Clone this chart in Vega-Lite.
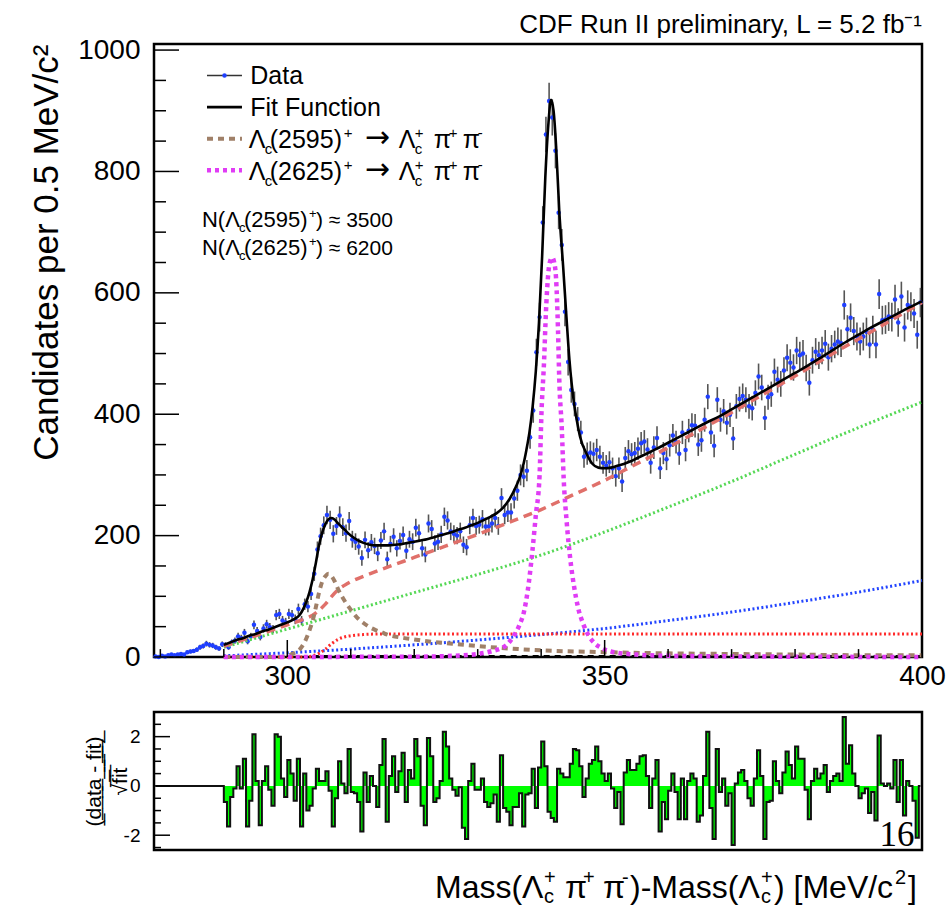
{
"$schema": "https://vega.github.io/schema/vega-lite/v6.json",
"background": "white",
"padding": {"left": 27, "top": 10, "right": 0, "bottom": 0},
"spacing": 18,
"config": {
  "font": "Liberation Sans",
  "view": {"stroke": "#000", "strokeWidth": 2.5},
  "axis": {"labelFont": "Liberation Sans", "titleFont": "Liberation Sans", "labelColor": "#000", "titleColor": "#000", "grid": false},
  "text": {"font": "Liberation Sans", "color": "#000"}
},
"datasets": {
"bins": [
{"x":279.25,"n":1,"e":1,"r":0},{"x":279.75,"n":0,"e":0,"r":0},{"x":280.25,"n":2,"e":1.4,"r":0},{"x":280.75,"n":1,"e":1,"r":0},{"x":281.25,"n":3,"e":1.7,"r":0},{"x":281.75,"n":4,"e":2,"r":0},{"x":282.25,"n":3,"e":1.7,"r":0},{"x":282.75,"n":4,"e":2,"r":0},{"x":283.25,"n":5,"e":2.2,"r":0},{"x":283.75,"n":4,"e":2,"r":0},{"x":284.25,"n":8,"e":2.8,"r":0},{"x":284.75,"n":9,"e":3,"r":0},{"x":285.25,"n":10,"e":3.2,"r":0},{"x":285.75,"n":12,"e":3.5,"r":0},{"x":286.25,"n":16,"e":4,"r":0},{"x":286.75,"n":18,"e":4.2,"r":0},{"x":287.25,"n":22,"e":4.7,"r":0},{"x":287.75,"n":20,"e":4.5,"r":0},{"x":288.25,"n":19,"e":4.4,"r":0},{"x":288.75,"n":16,"e":4,"r":0},{"x":289.25,"n":14,"e":3.7,"r":0},{"x":289.75,"n":21,"e":4.6,"r":0},
{"x":290.25,"n":20,"e":4.5,"r":-0.65},{"x":290.75,"n":16,"e":4,"r":-1.65},{"x":291.25,"n":24,"e":4.9,"r":-0.45},{"x":291.75,"n":27,"e":5.2,"r":-0.1},{"x":292.25,"n":34,"e":5.8,"r":0.8},{"x":292.75,"n":31,"e":5.6,"r":-0.1},{"x":293.25,"n":40,"e":6.3,"r":1.1},{"x":293.75,"n":26,"e":5.1,"r":-1.65},{"x":294.25,"n":34,"e":5.8,"r":-0.6},{"x":294.75,"n":53,"e":7.3,"r":2.1},
{"x":295.25,"n":43,"e":6.6,"r":0.2},{"x":295.75,"n":33,"e":5.7,"r":-1.6},{"x":296.25,"n":47,"e":6.9,"r":0.2},{"x":296.75,"n":54,"e":7.3,"r":0.8},{"x":297.25,"n":49,"e":7,"r":-0.15},{"x":297.75,"n":46,"e":6.8,"r":-0.8},{"x":298.25,"n":69,"e":8.3,"r":2.1},{"x":298.75,"n":71,"e":8.4,"r":2.0},{"x":299.25,"n":60,"e":7.7,"r":0.3},{"x":299.75,"n":57,"e":7.5,"r":-0.45},
{"x":300.25,"n":71,"e":8.4,"r":1.05},{"x":300.75,"n":69,"e":8.3,"r":0.5},{"x":301.25,"n":62,"e":7.9,"r":-0.6},{"x":301.75,"n":79,"e":8.9,"r":1.1},{"x":302.25,"n":60,"e":7.7,"r":-1.65},{"x":302.75,"n":87,"e":9.3,"r":0.5},{"x":303.25,"n":83,"e":9.1,"r":-1.0},{"x":303.75,"n":104,"e":10.2,"r":-0.8},{"x":304.25,"n":137,"e":11.7,"r":-0.1},{"x":304.75,"n":177,"e":13.3,"r":0.7},
{"x":305.25,"n":199,"e":14.1,"r":0.2},{"x":305.75,"n":217,"e":14.7,"r":0.2},{"x":306.25,"n":234,"e":15.3,"r":0.6},{"x":306.75,"n":226,"e":15,"r":-0.2},{"x":307.25,"n":203,"e":14.2,"r":-1.65},{"x":307.75,"n":216,"e":14.7,"r":-0.5},{"x":308.25,"n":233,"e":15.3,"r":1.0},{"x":308.75,"n":214,"e":14.6,"r":0.1},{"x":309.25,"n":204,"e":14.3,"r":-0.3},{"x":309.75,"n":224,"e":15,"r":1.5},
{"x":310.25,"n":194,"e":13.9,"r":-0.25},{"x":310.75,"n":190,"e":13.8,"r":-0.3},{"x":311.25,"n":182,"e":13.5,"r":-0.65},{"x":311.75,"n":163,"e":12.8,"r":-1.85},{"x":312.25,"n":193,"e":13.9,"r":0.55},{"x":312.75,"n":176,"e":13.3,"r":-0.65},{"x":313.25,"n":189,"e":13.7,"r":0.4},{"x":313.75,"n":183,"e":13.5,"r":0},{"x":314.25,"n":171,"e":13.1,"r":-0.85},{"x":314.75,"n":192,"e":13.9,"r":0.85},
{"x":315.25,"n":207,"e":14.4,"r":1.9},{"x":315.75,"n":161,"e":12.7,"r":-1.45},{"x":316.25,"n":186,"e":13.6,"r":0.4},{"x":316.75,"n":198,"e":14.1,"r":1.2},{"x":317.25,"n":179,"e":13.4,"r":-0.25},{"x":317.75,"n":191,"e":13.8,"r":0.6},{"x":318.25,"n":201,"e":14.2,"r":1.35},{"x":318.75,"n":175,"e":13.2,"r":-0.65},{"x":319.25,"n":194,"e":13.9,"r":0.65},{"x":319.75,"n":190,"e":13.8,"r":0.3},
{"x":320.25,"n":213,"e":14.6,"r":1.9},{"x":320.75,"n":204,"e":14.3,"r":1.2},{"x":321.25,"n":179,"e":13.4,"r":-0.8},{"x":321.75,"n":169,"e":13,"r":-1.6},{"x":322.25,"n":220,"e":14.8,"r":1.95},{"x":322.75,"n":211,"e":14.5,"r":1.2},{"x":323.25,"n":187,"e":13.7,"r":-0.65},{"x":323.75,"n":190,"e":13.8,"r":-0.5},{"x":324.25,"n":202,"e":14.2,"r":0.2},{"x":324.75,"n":231,"e":15.2,"r":2.2},
{"x":325.25,"n":225,"e":15,"r":1.6},{"x":325.75,"n":207,"e":14.4,"r":0.3},{"x":326.25,"n":203,"e":14.2,"r":-0.15},{"x":326.75,"n":200,"e":14.1,"r":-0.4},{"x":327.25,"n":207,"e":14.4,"r":-0.05},{"x":327.75,"n":185,"e":13.6,"r":-1.7},{"x":328.25,"n":181,"e":13.5,"r":-2.15},{"x":328.75,"n":217,"e":14.7,"r":0.2},{"x":329.25,"n":229,"e":15.1,"r":0.9},{"x":329.75,"n":216,"e":14.7,"r":-0.15},
{"x":330.25,"n":218,"e":14.8,"r":-0.15},{"x":330.75,"n":227,"e":15.1,"r":0.3},{"x":331.25,"n":215,"e":14.7,"r":-0.65},{"x":331.75,"n":215,"e":14.7,"r":-0.85},{"x":332.25,"n":220,"e":14.8,"r":-0.7},{"x":332.75,"n":229,"e":15.1,"r":-0.35},{"x":333.25,"n":216,"e":14.7,"r":-1.45},{"x":333.75,"n":262,"e":16.2,"r":1.25},{"x":334.25,"n":234,"e":15.3,"r":-0.9},{"x":334.75,"n":238,"e":15.4,"r":-1.05},
{"x":335.25,"n":238,"e":15.4,"r":-1.6},{"x":335.75,"n":261,"e":16.2,"r":-0.85},{"x":336.25,"n":274,"e":16.6,"r":-0.85},{"x":336.75,"n":300,"e":17.3,"r":-0.3},{"x":337.25,"n":297,"e":17.2,"r":-1.65},{"x":337.75,"n":307,"e":17.5,"r":-0.35},{"x":338.25,"n":362,"e":19,"r":-0.3},{"x":338.75,"n":406,"e":20.1,"r":0.7},{"x":339.25,"n":502,"e":22.4,"r":-0.9},{"x":339.75,"n":560,"e":23.7,"r":0.75},
{"x":340.25,"n":716,"e":26.8,"r":1.8},{"x":340.75,"n":861,"e":29.3,"r":0.8},{"x":341.25,"n":916,"e":30.3,"r":-1.05},{"x":341.75,"n":889,"e":29.8,"r":-1.3},{"x":342.25,"n":834,"e":28.9,"r":-1.45},{"x":342.75,"n":732,"e":27.1,"r":0.7},{"x":343.25,"n":679,"e":26.1,"r":0.5},{"x":343.75,"n":569,"e":23.9,"r":0.35},{"x":344.25,"n":486,"e":22,"r":0.35},{"x":344.75,"n":440,"e":21,"r":0.9},
{"x":345.25,"n":417,"e":20.4,"r":1.5},{"x":345.75,"n":392,"e":19.8,"r":1.45},{"x":346.25,"n":370,"e":19.2,"r":0.8},{"x":346.75,"n":330,"e":18.2,"r":-0.45},{"x":347.25,"n":335,"e":18.3,"r":0.3},{"x":347.75,"n":337,"e":18.4,"r":0.9},{"x":348.25,"n":335,"e":18.3,"r":1.05},{"x":348.75,"n":341,"e":18.5,"r":1.6},{"x":349.25,"n":330,"e":18.2,"r":1.0},{"x":349.75,"n":320,"e":17.9,"r":0.5},
{"x":350.25,"n":315,"e":17.7,"r":0.2},{"x":350.75,"n":321,"e":17.9,"r":0.5},{"x":351.25,"n":311,"e":17.6,"r":-0.1},{"x":351.75,"n":298,"e":17.3,"r":-0.9},{"x":352.25,"n":311,"e":17.6,"r":-0.25},{"x":352.75,"n":289,"e":17,"r":-1.55},{"x":353.25,"n":328,"e":18.1,"r":0.55},{"x":353.75,"n":339,"e":18.4,"r":1.05},{"x":354.25,"n":334,"e":18.3,"r":0.65},{"x":354.75,"n":336,"e":18.3,"r":0.65},
{"x":355.25,"n":343,"e":18.5,"r":0.9},{"x":355.75,"n":352,"e":18.8,"r":1.2},{"x":356.25,"n":355,"e":18.8,"r":1.25},{"x":356.75,"n":342,"e":18.5,"r":0.4},{"x":357.25,"n":320,"e":17.9,"r":-0.9},{"x":357.75,"n":345,"e":18.6,"r":0.3},{"x":358.25,"n":361,"e":19,"r":1.05},{"x":358.75,"n":311,"e":17.6,"r":-1.85},{"x":359.25,"n":336,"e":18.3,"r":-0.65},{"x":359.75,"n":326,"e":18.1,"r":-1.35},
{"x":360.25,"n":349,"e":18.7,"r":-0.2},{"x":360.75,"n":365,"e":19.1,"r":0.5},{"x":361.25,"n":354,"e":18.8,"r":-0.25},{"x":361.75,"n":335,"e":18.3,"r":-1.35},{"x":362.25,"n":370,"e":19.2,"r":0.3},{"x":362.75,"n":341,"e":18.5,"r":-1.35},{"x":363.25,"n":373,"e":19.3,"r":0.2},{"x":363.75,"n":382,"e":19.5,"r":0.5},{"x":364.25,"n":381,"e":19.5,"r":0.3},{"x":364.75,"n":350,"e":18.7,"r":-1.45},
{"x":365.25,"n":357,"e":18.9,"r":-1.2},{"x":365.75,"n":391,"e":19.8,"r":0.4},{"x":366.25,"n":429,"e":20.7,"r":2.2},{"x":366.75,"n":370,"e":19.2,"r":-0.9},{"x":367.25,"n":348,"e":18.7,"r":-2.15},{"x":367.75,"n":424,"e":20.6,"r":1.5},{"x":368.25,"n":391,"e":19.8,"r":-0.25},{"x":368.75,"n":405,"e":20.1,"r":0.3},{"x":369.25,"n":386,"e":19.6,"r":-0.8},{"x":369.75,"n":399,"e":20,"r":-0.3},
{"x":370.25,"n":360,"e":19,"r":-2.4},{"x":370.75,"n":413,"e":20.3,"r":0.1},{"x":371.25,"n":425,"e":20.6,"r":0.55},{"x":371.75,"n":430,"e":20.7,"r":0.65},{"x":372.25,"n":424,"e":20.6,"r":0.2},{"x":372.75,"n":413,"e":20.3,"r":-0.5},{"x":373.25,"n":410,"e":20.2,"r":-0.8},{"x":373.75,"n":435,"e":20.9,"r":0.3},{"x":374.25,"n":462,"e":21.5,"r":1.45},{"x":374.75,"n":444,"e":21.1,"r":0.4},
{"x":375.25,"n":394,"e":19.8,"r":-2.15},{"x":375.75,"n":428,"e":20.7,"r":-0.65},{"x":376.25,"n":433,"e":20.8,"r":-0.6},{"x":376.75,"n":470,"e":21.7,"r":1.0},{"x":377.25,"n":457,"e":21.4,"r":0.2},{"x":377.75,"n":450,"e":21.2,"r":-0.3},{"x":378.25,"n":472,"e":21.7,"r":0.55},{"x":378.75,"n":493,"e":22.2,"r":1.4},{"x":379.25,"n":485,"e":22,"r":0.85},{"x":379.75,"n":477,"e":21.8,"r":0.3},
{"x":380.25,"n":505,"e":22.5,"r":1.6},{"x":380.75,"n":497,"e":22.3,"r":1.1},{"x":381.25,"n":500,"e":22.4,"r":1.1},{"x":381.75,"n":476,"e":21.8,"r":-0.15},{"x":382.25,"n":452,"e":21.3,"r":-1.35},{"x":382.75,"n":489,"e":22.1,"r":0.2},{"x":383.25,"n":503,"e":22.4,"r":0.7},{"x":383.75,"n":497,"e":22.3,"r":0.3},{"x":384.25,"n":505,"e":22.5,"r":0.5},{"x":384.75,"n":516,"e":22.7,"r":0.85},
{"x":385.25,"n":494,"e":22.2,"r":-0.25},{"x":385.75,"n":508,"e":22.5,"r":0.2},{"x":386.25,"n":515,"e":22.7,"r":0.4},{"x":386.75,"n":520,"e":22.8,"r":0.5},{"x":387.25,"n":517,"e":22.7,"r":0.2},{"x":387.75,"n":580,"e":24.1,"r":2.8},{"x":388.25,"n":540,"e":23.2,"r":0.9},{"x":388.75,"n":559,"e":23.6,"r":1.65},{"x":389.25,"n":537,"e":23.2,"r":0.5},{"x":389.75,"n":528,"e":23,"r":0},
{"x":390.25,"n":520,"e":22.8,"r":-0.5},{"x":390.75,"n":528,"e":23,"r":-0.3},{"x":391.25,"n":536,"e":23.2,"r":-0.1},{"x":391.75,"n":515,"e":22.7,"r":-1.1},{"x":392.25,"n":539,"e":23.2,"r":-0.25},{"x":392.75,"n":515,"e":22.7,"r":-1.4},{"x":393.25,"n":598,"e":24.5,"r":2.05},{"x":393.75,"n":555,"e":23.6,"r":0.1},{"x":394.25,"n":556,"e":23.6,"r":0},{"x":394.75,"n":561,"e":23.7,"r":0.1},
{"x":395.25,"n":560,"e":23.7,"r":-0.1},{"x":395.75,"n":589,"e":24.3,"r":1.05},{"x":396.25,"n":551,"e":23.5,"r":-0.65},{"x":396.75,"n":594,"e":24.4,"r":1.05},{"x":397.25,"n":543,"e":23.3,"r":-1.2},{"x":397.75,"n":580,"e":24.1,"r":0.2},{"x":398.25,"n":577,"e":24,"r":0},{"x":398.75,"n":566,"e":23.8,"r":-0.6},{"x":399.25,"n":531,"e":23,"r":-2.1},{"x":399.75,"n":584,"e":24.2,"r":0}
],
"fit": [
{"x":290,"y":20},{"x":291,"y":24},{"x":292,"y":28},{"x":293,"y":31},{"x":294,"y":35},{"x":295,"y":38},{"x":296,"y":42},{"x":297,"y":45},{"x":298,"y":49},{"x":299,"y":53},{"x":300,"y":57},{"x":301,"y":62},{"x":302,"y":70},{"x":302.5,"y":79},{"x":303,"y":91},{"x":303.5,"y":107},{"x":304,"y":128},{"x":304.5,"y":155},{"x":305,"y":184},{"x":305.5,"y":205},{"x":306,"y":219},{"x":306.5,"y":227},{"x":307,"y":229},{"x":307.5,"y":226},{"x":308,"y":220},{"x":309,"y":210},{"x":310,"y":200},{"x":311,"y":193},{"x":312,"y":188},{"x":313,"y":185},{"x":314,"y":184},{"x":315,"y":184},{"x":316,"y":184},{"x":317,"y":185},{"x":318,"y":186},{"x":319,"y":188},{"x":320,"y":190},{"x":321,"y":192},{"x":322,"y":194},{"x":323,"y":197},{"x":324,"y":200},{"x":325,"y":203},{"x":326,"y":206},{"x":327,"y":210},{"x":328,"y":213},{"x":329,"y":217},{"x":330,"y":221},{"x":331,"y":226},{"x":332,"y":231},{"x":333,"y":237},{"x":334,"y":246},{"x":335,"y":260},{"x":336,"y":280},{"x":336.6,"y":295},{"x":337.15,"y":315},{"x":337.65,"y":340},{"x":338.15,"y":370},{"x":338.65,"y":412},{"x":339.15,"y":470},{"x":339.65,"y":550},{"x":340.15,"y":660},{"x":340.65,"y":790},{"x":341.15,"y":880},{"x":341.55,"y":918},{"x":341.95,"y":900},{"x":342.35,"y":842},{"x":342.85,"y":735},{"x":343.45,"y":645},{"x":343.95,"y":565},{"x":344.45,"y":490},{"x":345.15,"y":420},{"x":345.65,"y":388},{"x":346.15,"y":362},{"x":347.15,"y":335},{"x":348.1,"y":318},{"x":349,"y":312},{"x":350,"y":311},{"x":351,"y":312},{"x":352,"y":315},{"x":353,"y":318},{"x":354,"y":322},{"x":355,"y":327},{"x":356,"y":332},{"x":357,"y":337},{"x":358,"y":342},{"x":360,"y":353},{"x":362,"y":364},{"x":364,"y":375},{"x":366,"y":386},{"x":368,"y":396},{"x":370,"y":408},{"x":372,"y":420},{"x":374,"y":432},{"x":376,"y":444},{"x":378,"y":456},{"x":380,"y":468},{"x":382,"y":480},{"x":384,"y":493},{"x":386,"y":506},{"x":388,"y":519},{"x":390,"y":531},{"x":392,"y":543},{"x":394,"y":554},{"x":396,"y":565},{"x":398,"y":576},{"x":400,"y":586}
],
"green": [{"x":290,"y":16},{"x":300,"y":46},{"x":310,"y":76},{"x":320,"y":106},{"x":330,"y":136},{"x":340,"y":168},{"x":350,"y":206},{"x":360,"y":247},{"x":370,"y":289},{"x":380,"y":334},{"x":390,"y":378},{"x":400,"y":420}],
"blue": [{"x":290,"y":2},{"x":300,"y":7},{"x":310,"y":13},{"x":320,"y":20},{"x":330,"y":28},{"x":340,"y":37},{"x":350,"y":47},{"x":360,"y":60},{"x":370,"y":74},{"x":380,"y":90},{"x":390,"y":107},{"x":400,"y":126}],
"reddot": [{"x":290,"y":0},{"x":303,"y":0},{"x":304,"y":2},{"x":305,"y":6},{"x":306,"y":13},{"x":307,"y":22},{"x":308,"y":29},{"x":309,"y":33},{"x":310,"y":35},{"x":312,"y":37},{"x":315,"y":38},{"x":400,"y":38}],
"bkg": [{"x":290,"y":18},{"x":295,"y":35},{"x":300,"y":53},{"x":303,"y":64},{"x":304,"y":69},{"x":305,"y":77},{"x":306,"y":87},{"x":307,"y":100},{"x":308,"y":111},{"x":309,"y":118},{"x":310,"y":124},{"x":312,"y":133},{"x":315,"y":145},{"x":320,"y":164},{"x":325,"y":183},{"x":330,"y":202},{"x":335,"y":222},{"x":340,"y":243},{"x":345,"y":267},{"x":350,"y":291},{"x":355,"y":318},{"x":360,"y":345},{"x":365,"y":374},{"x":370,"y":403},{"x":375,"y":433},{"x":380,"y":463},{"x":385,"y":494},{"x":390,"y":524},{"x":395,"y":554},{"x":400,"y":584}],
"sig1": [{"x":290,"y":0},{"x":299,"y":0},{"x":300,"y":2},{"x":301,"y":6},{"x":302,"y":13},{"x":302.8,"y":26},{"x":303.5,"y":44},{"x":304,"y":60},{"x":304.5,"y":82},{"x":305,"y":106},{"x":305.5,"y":124},{"x":306,"y":133},{"x":306.5,"y":137},{"x":307,"y":133},{"x":307.5,"y":124},{"x":308,"y":112},{"x":309,"y":93},{"x":310,"y":78},{"x":311,"y":65},{"x":312,"y":56},{"x":313,"y":49},{"x":314,"y":44},{"x":315,"y":40},{"x":316,"y":36},{"x":318,"y":32},{"x":320,"y":29},{"x":322,"y":26},{"x":326,"y":22},{"x":330,"y":18},{"x":335,"y":14},{"x":340,"y":11},{"x":350,"y":8},{"x":360,"y":6},{"x":370,"y":5},{"x":380,"y":4},{"x":390,"y":3},{"x":400,"y":3}],
"sig2": [{"x":290,"y":0},{"x":320,"y":0.5},{"x":325,"y":1.5},{"x":330,"y":5},{"x":332,"y":9},{"x":334.45,"y":19},{"x":335.5,"y":32},{"x":336.55,"y":52},{"x":337.3,"y":75},{"x":337.85,"y":107},{"x":338.65,"y":178},{"x":339.15,"y":233},{"x":339.75,"y":300},{"x":340.05,"y":403},{"x":340.45,"y":486},{"x":340.75,"y":568},{"x":341.05,"y":623},{"x":341.35,"y":650},{"x":341.75,"y":658},{"x":342.05,"y":650},{"x":342.35,"y":623},{"x":342.65,"y":540},{"x":342.85,"y":458},{"x":343.25,"y":376},{"x":343.55,"y":293},{"x":344.0,"y":225},{"x":344.6,"y":160},{"x":345.2,"y":115},{"x":345.8,"y":82},{"x":346.6,"y":55},{"x":347.5,"y":35},{"x":348.5,"y":22},{"x":349.5,"y":15},{"x":351,"y":9},{"x":355,"y":4},{"x":360,"y":2},{"x":370,"y":1},{"x":400,"y":0}],
"zero": [{"x":304,"y":0.8},{"x":400,"y":0.8}],
"legDF": [{"y":944,"label":"Data"},{"y":892,"label":"Fit Function"}],
"leg34": [{"y":838.5,"num":"(2595)"},{"y":786.6,"num":"(2625)"}],
"legN": [{"y":709,"num":"(2595)","tail":") ≈ 3500"},{"y":662,"num":"(2625)","tail":") ≈ 6200"}]
},
"vconcat": [
{
"width": 768, "height": 613,
"title": {"text": "CDF Run II preliminary, L = 5.2 fb⁻¹", "anchor": "end", "frame": "group", "fontSize": 26, "fontWeight": "normal", "font": "Liberation Sans", "offset": -2, "color": "#000"},
"layer": [
{"data": {"name": "bins"}, "mark": {"type": "errorbar", "color": "#555", "thickness": 1.6},
 "encoding": {
  "x": {"field": "x", "type": "quantitative", "scale": {"domain": [279, 400], "nice": false, "zero": false},
        "axis": {"values": [300, 350, 400], "ticks": false, "domain": false, "labelFontSize": 28, "labelPadding": 5, "title": null, "labelFlush": false, "labelOverlap": false}},
  "y": {"field": "n", "type": "quantitative", "scale": {"domain": [0, 1010], "nice": false, "zero": false},
        "axis": {"values": [0, 200, 400, 600, 800, 1000], "format": "d", "ticks": false, "domain": false, "labelFontSize": 28, "labelPadding": 14, "labelFlush": false, "title": "Candidates per 0.5 MeV/c²", "titleFontSize": 35, "titleFontWeight": "normal", "titleAngle": 270, "titleAlign": "right", "titleBaseline": "bottom", "titleX": -90, "titleY": 0}},
  "yError": {"field": "e"}
 }},
{"data": {"name": "bins"}, "mark": {"type": "point", "filled": true, "size": 20, "color": "#1f3fff", "opacity": 1},
 "encoding": {
  "x": {"field": "x", "type": "quantitative", "scale": {"domain": [279, 400], "nice": false, "zero": false},
        "axis": {"values": [300, 350, 400], "ticks": false, "domain": false, "labelFontSize": 28, "labelPadding": 5, "title": null, "labelFlush": false, "labelOverlap": false}},
  "y": {"field": "n", "type": "quantitative", "scale": {"domain": [0, 1010], "nice": false, "zero": false},
        "axis": {"values": [0, 200, 400, 600, 800, 1000], "format": "d", "ticks": false, "domain": false, "labelFontSize": 28, "labelPadding": 14, "labelFlush": false, "title": "Candidates per 0.5 MeV/c²", "titleFontSize": 35, "titleFontWeight": "normal", "titleAngle": 270, "titleAlign": "right", "titleBaseline": "bottom", "titleX": -90, "titleY": 0}}
 }},
{"data": {"name": "green"}, "mark": {"type": "line", "color": "#55d855", "strokeWidth": 3, "strokeDash": [2, 2.5], "interpolate": "monotone"}, "encoding": {"x": {"field": "x", "type": "quantitative"}, "y": {"field": "y", "type": "quantitative"}}},
{"data": {"name": "blue"}, "mark": {"type": "line", "color": "#2244ff", "strokeWidth": 3, "strokeDash": [2, 2.5], "interpolate": "monotone"}, "encoding": {"x": {"field": "x", "type": "quantitative"}, "y": {"field": "y", "type": "quantitative"}}},
{"data": {"name": "reddot"}, "mark": {"type": "line", "color": "#ff2a2a", "strokeWidth": 3, "strokeDash": [2, 2.5], "interpolate": "monotone"}, "encoding": {"x": {"field": "x", "type": "quantitative"}, "y": {"field": "y", "type": "quantitative"}}},
{"data": {"name": "zero"}, "mark": {"type": "line", "color": "#000", "strokeWidth": 3, "strokeDash": [6, 5]}, "encoding": {"x": {"field": "x", "type": "quantitative"}, "y": {"field": "y", "type": "quantitative"}}},
{"data": {"name": "bkg"}, "mark": {"type": "line", "color": "#e0706a", "strokeWidth": 3.5, "strokeDash": [9, 6], "interpolate": "monotone"}, "encoding": {"x": {"field": "x", "type": "quantitative"}, "y": {"field": "y", "type": "quantitative"}}},
{"data": {"name": "sig1"}, "mark": {"type": "line", "color": "#a08068", "strokeWidth": 4, "strokeDash": [6, 5], "interpolate": "monotone"}, "encoding": {"x": {"field": "x", "type": "quantitative"}, "y": {"field": "y", "type": "quantitative"}}},
{"data": {"name": "sig2"}, "mark": {"type": "line", "color": "#e03cf5", "strokeWidth": 4.5, "strokeDash": [4, 4], "interpolate": "monotone"}, "encoding": {"x": {"field": "x", "type": "quantitative"}, "y": {"field": "y", "type": "quantitative"}}},
{"data": {"name": "fit"}, "mark": {"type": "line", "color": "#000", "strokeWidth": 2.6, "interpolate": "monotone"}, "encoding": {"x": {"field": "x", "type": "quantitative"}, "y": {"field": "y", "type": "quantitative"}}},
{"data": {"values": [{"v": 0}, {"v": 200}, {"v": 400}, {"v": 600}, {"v": 800}, {"v": 1000}]}, "mark": {"type": "rule", "color": "#000", "strokeWidth": 1.5}, "encoding": {"y": {"field": "v", "type": "quantitative"}, "x": {"datum": 279}, "x2": {"datum": 282.94}}},
{"data": {"values": [{"v": 50}, {"v": 100}, {"v": 150}, {"v": 250}, {"v": 300}, {"v": 350}, {"v": 450}, {"v": 500}, {"v": 550}, {"v": 650}, {"v": 700}, {"v": 750}, {"v": 850}, {"v": 900}, {"v": 950}]}, "mark": {"type": "rule", "color": "#000", "strokeWidth": 1.5}, "encoding": {"y": {"field": "v", "type": "quantitative"}, "x": {"datum": 279}, "x2": {"datum": 280.89}}},
{"data": {"values": [{"v": 300}, {"v": 350}, {"v": 400}]}, "mark": {"type": "rule", "color": "#000", "strokeWidth": 1.5}, "encoding": {"x": {"field": "v", "type": "quantitative"}, "y": {"datum": 0}, "y2": {"datum": 28}}},
{"data": {"values": [{"v": 280}, {"v": 290}, {"v": 310}, {"v": 320}, {"v": 330}, {"v": 340}, {"v": 360}, {"v": 370}, {"v": 380}, {"v": 390}]}, "mark": {"type": "rule", "color": "#000", "strokeWidth": 1.5}, "encoding": {"x": {"field": "v", "type": "quantitative"}, "y": {"datum": 0}, "y2": {"datum": 13}}},
{"data": {"values": [{}]}, "mark": {"type": "rule", "color": "#333", "strokeWidth": 1.5}, "encoding": {"x": {"datum": 287.35}, "x2": {"datum": 292.86}, "y": {"datum": 958}}},
{"data": {"values": [{}]}, "mark": {"type": "point", "filled": true, "size": 20, "color": "#1f3fff", "opacity": 1}, "encoding": {"x": {"datum": 290.11}, "y": {"datum": 958}}},
{"data": {"values": [{}]}, "mark": {"type": "rule", "color": "#000", "strokeWidth": 2.6}, "encoding": {"x": {"datum": 287.35}, "x2": {"datum": 292.86}, "y": {"datum": 906}}},
{"data": {"values": [{}]}, "mark": {"type": "rule", "color": "#a08068", "strokeWidth": 4, "strokeDash": [6, 5]}, "encoding": {"x": {"datum": 287.35}, "x2": {"datum": 292.86}, "y": {"datum": 854}}},
{"data": {"values": [{}]}, "mark": {"type": "rule", "color": "#e03cf5", "strokeWidth": 4.5, "strokeDash": [4, 4]}, "encoding": {"x": {"datum": 287.35}, "x2": {"datum": 292.86}, "y": {"datum": 802}}},
{"data": {"name": "legDF"}, "mark": {"type": "text", "align": "left", "baseline": "alphabetic", "fontSize": 25}, "encoding": {"x": {"datum": 294.17}, "y": {"field": "y", "type": "quantitative"}, "text": {"field": "label"}}},
{"data": {"name": "leg34"}, "mark": {"type": "text", "align": "left", "baseline": "alphabetic", "fontSize": 25, "dx": 0, "text": "Λ"}, "encoding": {"x": {"datum": 293.92}, "y": {"field": "y", "type": "quantitative"}}},
{"data": {"name": "leg34"}, "mark": {"type": "text", "align": "left", "baseline": "alphabetic", "fontSize": 15, "dx": 16, "dy": 6, "text": "c"}, "encoding": {"x": {"datum": 293.92}, "y": {"field": "y", "type": "quantitative"}}},
{"data": {"name": "leg34"}, "mark": {"type": "text", "align": "left", "baseline": "alphabetic", "fontSize": 25, "dx": 21}, "encoding": {"x": {"datum": 293.92}, "y": {"field": "y", "type": "quantitative"}, "text": {"field": "num"}}},
{"data": {"name": "leg34"}, "mark": {"type": "text", "align": "left", "baseline": "alphabetic", "fontSize": 15, "dx": 95, "dy": -10, "text": "+"}, "encoding": {"x": {"datum": 293.92}, "y": {"field": "y", "type": "quantitative"}}},
{"data": {"name": "leg34"}, "mark": {"type": "text", "align": "left", "baseline": "alphabetic", "font": "DejaVu Sans", "fontSize": 30, "dx": 116, "dy": -1, "text": "→"}, "encoding": {"x": {"datum": 293.92}, "y": {"field": "y", "type": "quantitative"}}},
{"data": {"name": "leg34"}, "mark": {"type": "text", "align": "left", "baseline": "alphabetic", "fontSize": 25, "dx": 150, "text": "Λ"}, "encoding": {"x": {"datum": 293.92}, "y": {"field": "y", "type": "quantitative"}}},
{"data": {"name": "leg34"}, "mark": {"type": "text", "align": "left", "baseline": "alphabetic", "fontSize": 15, "dx": 166, "dy": -10, "text": "+"}, "encoding": {"x": {"datum": 293.92}, "y": {"field": "y", "type": "quantitative"}}},
{"data": {"name": "leg34"}, "mark": {"type": "text", "align": "left", "baseline": "alphabetic", "fontSize": 15, "dx": 166, "dy": 6, "text": "c"}, "encoding": {"x": {"datum": 293.92}, "y": {"field": "y", "type": "quantitative"}}},
{"data": {"name": "leg34"}, "mark": {"type": "text", "align": "left", "baseline": "alphabetic", "fontSize": 25, "dx": 185, "text": "π"}, "encoding": {"x": {"datum": 293.92}, "y": {"field": "y", "type": "quantitative"}}},
{"data": {"name": "leg34"}, "mark": {"type": "text", "align": "left", "baseline": "alphabetic", "fontSize": 15, "dx": 200, "dy": -10, "text": "+"}, "encoding": {"x": {"datum": 293.92}, "y": {"field": "y", "type": "quantitative"}}},
{"data": {"name": "leg34"}, "mark": {"type": "text", "align": "left", "baseline": "alphabetic", "fontSize": 25, "dx": 214, "text": "π"}, "encoding": {"x": {"datum": 293.92}, "y": {"field": "y", "type": "quantitative"}}},
{"data": {"name": "leg34"}, "mark": {"type": "text", "align": "left", "baseline": "alphabetic", "fontSize": 15, "dx": 229, "dy": -10, "text": "-"}, "encoding": {"x": {"datum": 293.92}, "y": {"field": "y", "type": "quantitative"}}},
{"data": {"name": "legN"}, "mark": {"type": "text", "align": "left", "baseline": "alphabetic", "fontSize": 22, "dx": 0, "text": "N(Λ"}, "encoding": {"x": {"datum": 286.56}, "y": {"field": "y", "type": "quantitative"}}},
{"data": {"name": "legN"}, "mark": {"type": "text", "align": "left", "baseline": "alphabetic", "fontSize": 13, "dx": 37, "dy": 5, "text": "c"}, "encoding": {"x": {"datum": 286.56}, "y": {"field": "y", "type": "quantitative"}}},
{"data": {"name": "legN"}, "mark": {"type": "text", "align": "left", "baseline": "alphabetic", "fontSize": 22, "dx": 42}, "encoding": {"x": {"datum": 286.56}, "y": {"field": "y", "type": "quantitative"}, "text": {"field": "num"}}},
{"data": {"name": "legN"}, "mark": {"type": "text", "align": "left", "baseline": "alphabetic", "fontSize": 13, "dx": 107, "dy": -9, "text": "+"}, "encoding": {"x": {"datum": 286.56}, "y": {"field": "y", "type": "quantitative"}}},
{"data": {"name": "legN"}, "mark": {"type": "text", "align": "left", "baseline": "alphabetic", "fontSize": 21, "dx": 114}, "encoding": {"x": {"datum": 286.56}, "y": {"field": "y", "type": "quantitative"}, "text": {"field": "tail"}}}
]
},
{
"width": 768, "height": 138,
"layer": [
{"data": {"name": "bins"}, "mark": {"type": "area", "interpolate": "step", "color": "#00ff00", "opacity": 1},
 "encoding": {
  "x": {"field": "x", "type": "quantitative", "scale": {"domain": [279, 400], "nice": false, "zero": false}, "axis": null},
  "y": {"field": "r", "type": "quantitative", "scale": {"domain": [-2.6, 3.0], "nice": false, "zero": false},
        "axis": {"values": [-2, 0, 2], "ticks": false, "domain": false, "labelFontSize": 19, "labelPadding": 14, "labelFlush": false, "labelExpr": "'' + datum.value", "title": ["(̲d̲a̲t̲a̲ ̲-̲ ̲f̲i̲t̲)̲", "√f̅i̅t̅"], "titleFontSize": 21, "titleFontWeight": "normal", "titlePadding": -7, "titleLineHeight": 26}},
  "y2": {"datum": 0}
 }},
{"data": {"name": "bins"}, "mark": {"type": "line", "interpolate": "step", "color": "#111", "strokeWidth": 2},
 "encoding": {
  "x": {"field": "x", "type": "quantitative", "axis": null},
  "y": {"field": "r", "type": "quantitative"}
 }},
{"data": {"values": [{"v": -2}, {"v": 0}, {"v": 2}]}, "mark": {"type": "rule", "color": "#000", "strokeWidth": 1.5}, "encoding": {"y": {"field": "v", "type": "quantitative"}, "x": {"datum": 279, "axis": null}, "x2": {"datum": 281.52}}},
{"data": {"values": [{"v": -2.5}, {"v": -1.5}, {"v": -1}, {"v": -0.5}, {"v": 0.5}, {"v": 1}, {"v": 1.5}, {"v": 2.5}]}, "mark": {"type": "rule", "color": "#000", "strokeWidth": 1.5}, "encoding": {"y": {"field": "v", "type": "quantitative"}, "x": {"datum": 279, "axis": null}, "x2": {"datum": 280.1}}},
{"data": {"values": [{}]}, "mark": {"type": "text", "align": "left", "baseline": "alphabetic", "font": "Liberation Serif", "fontSize": 35, "text": "16"}, "encoding": {"x": {"datum": 393.3, "axis": null}, "y": {"datum": -2.44}}},
{"data": {"values": [{}]}, "mark": {"type": "text", "align": "left", "baseline": "alphabetic", "fontSize": 32, "dx": 0, "text": "Mass(Λ"}, "encoding": {"x": {"datum": 323.27, "axis": null}, "y": {"datum": -4.53}}},
{"data": {"values": [{}]}, "mark": {"type": "text", "align": "left", "baseline": "alphabetic", "fontSize": 20, "dx": 109, "dy": 5, "text": "c"}, "encoding": {"x": {"datum": 323.27, "axis": null}, "y": {"datum": -4.53}}},
{"data": {"values": [{}]}, "mark": {"type": "text", "align": "left", "baseline": "alphabetic", "fontSize": 20, "dx": 109, "dy": -14, "text": "+"}, "encoding": {"x": {"datum": 323.27, "axis": null}, "y": {"datum": -4.53}}},
{"data": {"values": [{}]}, "mark": {"type": "text", "align": "left", "baseline": "alphabetic", "fontSize": 32, "dx": 130, "text": "π"}, "encoding": {"x": {"datum": 323.27, "axis": null}, "y": {"datum": -4.53}}},
{"data": {"values": [{}]}, "mark": {"type": "text", "align": "left", "baseline": "alphabetic", "fontSize": 20, "dx": 148, "dy": -14, "text": "+"}, "encoding": {"x": {"datum": 323.27, "axis": null}, "y": {"datum": -4.53}}},
{"data": {"values": [{}]}, "mark": {"type": "text", "align": "left", "baseline": "alphabetic", "fontSize": 32, "dx": 168, "text": "π"}, "encoding": {"x": {"datum": 323.27, "axis": null}, "y": {"datum": -4.53}}},
{"data": {"values": [{}]}, "mark": {"type": "text", "align": "left", "baseline": "alphabetic", "fontSize": 20, "dx": 187, "dy": -14, "text": "-"}, "encoding": {"x": {"datum": 323.27, "axis": null}, "y": {"datum": -4.53}}},
{"data": {"values": [{}]}, "mark": {"type": "text", "align": "left", "baseline": "alphabetic", "fontSize": 32, "dx": 195, "text": ")-Mass(Λ"}, "encoding": {"x": {"datum": 323.27, "axis": null}, "y": {"datum": -4.53}}},
{"data": {"values": [{}]}, "mark": {"type": "text", "align": "left", "baseline": "alphabetic", "fontSize": 20, "dx": 326, "dy": 5, "text": "c"}, "encoding": {"x": {"datum": 323.27, "axis": null}, "y": {"datum": -4.53}}},
{"data": {"values": [{}]}, "mark": {"type": "text", "align": "left", "baseline": "alphabetic", "fontSize": 20, "dx": 326, "dy": -14, "text": "+"}, "encoding": {"x": {"datum": 323.27, "axis": null}, "y": {"datum": -4.53}}},
{"data": {"values": [{}]}, "mark": {"type": "text", "align": "left", "baseline": "alphabetic", "fontSize": 32, "dx": 339, "text": ") [MeV/c"}, "encoding": {"x": {"datum": 323.27, "axis": null}, "y": {"datum": -4.53}}},
{"data": {"values": [{}]}, "mark": {"type": "text", "align": "left", "baseline": "alphabetic", "fontSize": 20, "dx": 460, "dy": -14, "text": "2"}, "encoding": {"x": {"datum": 323.27, "axis": null}, "y": {"datum": -4.53}}},
{"data": {"values": [{}]}, "mark": {"type": "text", "align": "left", "baseline": "alphabetic", "fontSize": 32, "dx": 473, "text": "]"}, "encoding": {"x": {"datum": 323.27, "axis": null}, "y": {"datum": -4.53}}}
]
}
]
}
